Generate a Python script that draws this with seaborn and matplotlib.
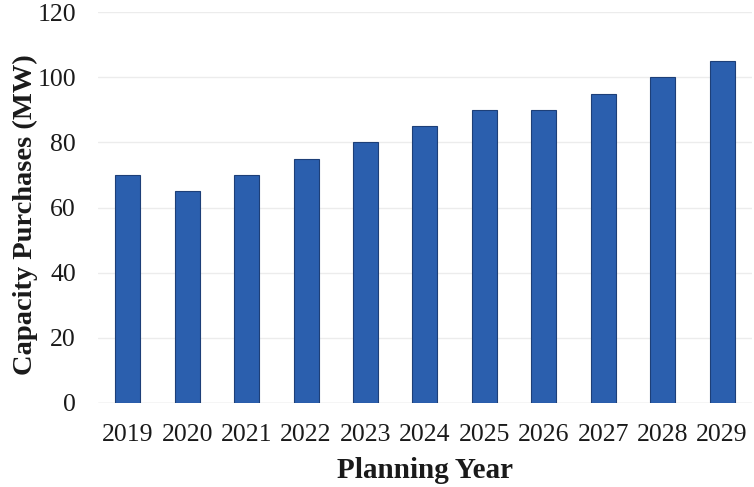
import matplotlib
matplotlib.use("Agg")
import matplotlib.pyplot as plt
import seaborn as sns
import pandas as pd

years = ["2019", "2020", "2021", "2022", "2023", "2024", "2025", "2026", "2027", "2028", "2029"]
capacity_mw = [70, 65, 70, 75, 80, 85, 90, 90, 95, 100, 105]

sns.set_theme(style="white")
plt.rcParams["font.family"] = ["Liberation Serif", "DejaVu Serif"]

df = pd.DataFrame({"year": years, "mw": capacity_mw})

fig = plt.figure(figsize=(7.54, 4.87), dpi=100)
ax = fig.add_axes([0.130, 0.1725, 0.867, 0.8025])

sns.barplot(data=df, x="year", y="mw", color="#2b5fae", width=0.42,
            edgecolor="#1d3f78", linewidth=0.8, saturation=1, ax=ax, zorder=3)

ax.set_ylim(0, 120)
ax.set_yticks(range(0, 121, 20))
ax.yaxis.grid(True, color="#ececec", linewidth=1.0, zorder=0)
ax.set_axisbelow(True)
for s in ax.spines.values():
    s.set_visible(False)
ax.axhline(0, color="#e0e0e0", linewidth=1.0, zorder=1)

ax.tick_params(axis="both", length=0, labelsize=18.5, colors="#1a1a1a")
ax.tick_params(axis="x", pad=15)
ax.tick_params(axis="y", pad=16)
ax.set_xlabel("Planning Year", fontsize=21, fontweight="bold", color="#1a1a1a", labelpad=8)
ax.set_ylabel("Capacity Purchases (MW)", fontsize=20.5, fontweight="bold", color="#1a1a1a")
ax.yaxis.set_label_coords(-0.092, 0.483)

fig.savefig("out.png", dpi=100, facecolor="white")
